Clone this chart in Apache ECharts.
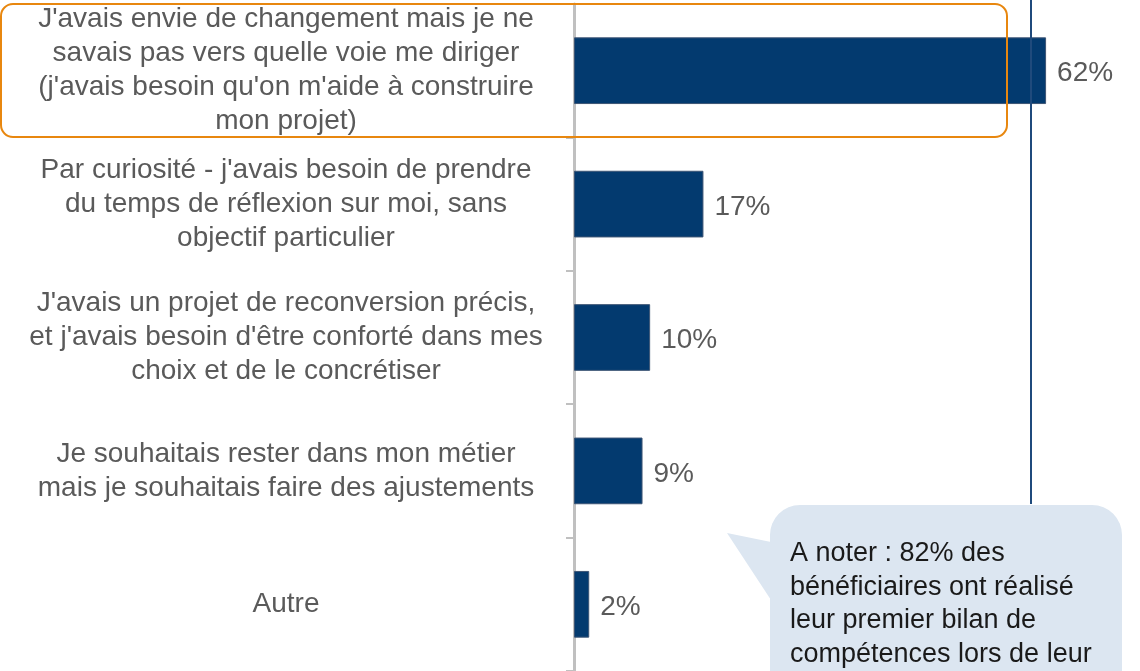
<!DOCTYPE html>
<html>
<head>
<meta charset="utf-8">
<script src="https://cdn.jsdelivr.net/npm/echarts@6/dist/echarts.min.js"></script>
<style>
  html, body { margin: 0; padding: 0; background: #fff; }
  #chart { width: 1140px; height: 671px; }
</style>
</head>
<body>
<div id="chart"></div>
<script>
const categories = [
  "J'avais envie de changement mais je ne\nsavais pas vers quelle voie me diriger\n(j'avais besoin qu'on m'aide à construire\nmon projet)",
  "Par curiosité - j'avais besoin de prendre\ndu temps de réflexion sur moi, sans\nobjectif particulier",
  "J'avais un projet de reconversion précis,\net j'avais besoin d'être conforté dans mes\nchoix et de le concrétiser",
  "Je souhaitais rester dans mon métier\nmais je souhaitais faire des ajustements",
  "Autre"
]
const values = [62, 17, 10, 9, 2]
const noteLines = [
  'A noter : 82% des',
  'bénéficiaires ont réalisé',
  'leur premier bilan de',
  'compétences lors de leur'
]

const font = '"Liberation Sans", Arial, sans-serif'
const chart = echarts.init(document.getElementById('chart'))
chart.setOption({
  animation: false,
  grid: { left: 574, top: 4, height: 670, right: 33 },
  xAxis: { type: 'value', min: 0, max: 70, show: false },
  yAxis: {
    type: 'category',
    inverse: true,
    data: categories,
    axisLine: { show: true, lineStyle: { color: '#c0c0c0', width: 3 } },
    axisTick: { show: true, interval: 0, length: 8, lineStyle: { color: '#c0c0c0', width: 2 } },
    axisLabel: {
      interval: 0,
      align: 'center',
      margin: 288,
      color: '#5a5a5a',
      fontFamily: font,
      fontSize: 28,
      lineHeight: 34
    }
  },
  series: [
    {
      type: 'bar',
      data: values,
      barWidth: '50%',
      itemStyle: { color: '#033a6f', borderColor: '#3d5575', borderWidth: 1 },
      label: {
        show: true,
        position: 'right',
        distance: 11,
        offset: [0, 3],
        formatter: '{c}%',
        color: '#5a5a5a',
        fontFamily: font,
        fontSize: 28
      }
    }
  ],
  graphic: [
    {
      type: 'rect',
      z: 100,
      shape: { x: 1, y: 4, width: 1006, height: 133, r: 12 },
      style: { fill: 'none', stroke: '#e8870f', lineWidth: 2 }
    },
    {
      type: 'line',
      z: 100,
      shape: { x1: 1031, y1: 0, x2: 1031, y2: 504 },
      style: { stroke: '#1f4a7c', lineWidth: 2 }
    },
    {
      type: 'rect',
      z: 100,
      shape: { x: 770, y: 505, width: 352, height: 220, r: 30 },
      style: { fill: '#dce6f1' }
    },
    {
      type: 'polygon',
      z: 100,
      shape: { points: [[771, 542], [727, 533], [771, 600]] },
      style: { fill: '#dce6f1' }
    },
    {
      type: 'text',
      z: 101,
      left: 790,
      top: 537,
      style: {
        text: noteLines.join('\n'),
        fill: '#1a1a1a',
        font: '27px ' + font,
        lineHeight: 33.5
      }
    }
  ]
})
</script>
</body>
</html>
